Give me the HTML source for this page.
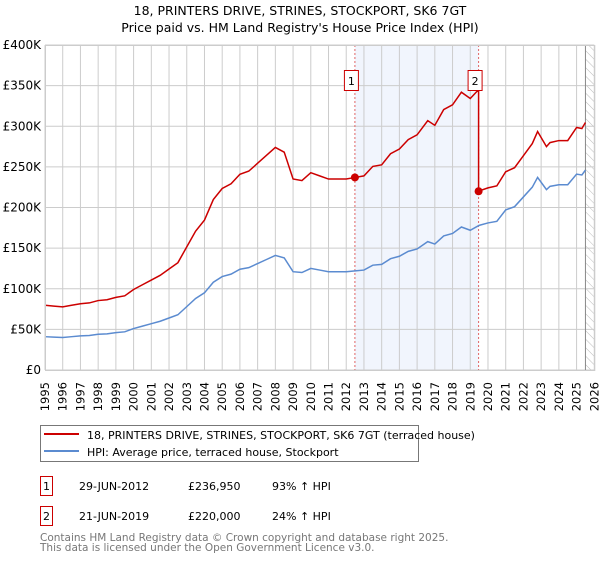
<!DOCTYPE html>
<html><head><meta charset="utf-8"><style>
body{margin:0;background:#fff;font-family:"DejaVu Sans","Liberation Sans",sans-serif;}
svg text{font-family:"DejaVu Sans","Liberation Sans",sans-serif;}
</style></head><body>
<svg id="chart" width="600" height="560" xmlns="http://www.w3.org/2000/svg">
<defs><pattern id="hatch" width="6" height="6" patternUnits="userSpaceOnUse" patternTransform="rotate(-45)"><line x1="0" y1="0" x2="0" y2="6" stroke="#bbb" stroke-width="1"/></pattern></defs>
<text x="300" y="15" text-anchor="middle" font-size="12.5" fill="#000">18, PRINTERS DRIVE, STRINES, STOCKPORT, SK6 7GT</text>
<text x="300" y="32" text-anchor="middle" font-size="12.5" fill="#000">Price paid vs. HM Land Registry's House Price Index (HPI)</text>
<g id="plot"></g>
<rect x="40.5" y="425.5" width="378" height="36" fill="#fff" stroke="#777"/>
<line x1="44" y1="434" x2="79" y2="434" stroke="#cc0000" stroke-width="2"/>
<text x="87" y="439" font-size="11" fill="#000">18, PRINTERS DRIVE, STRINES, STOCKPORT, SK6 7GT (terraced house)</text>
<line x1="44" y1="451" x2="79" y2="451" stroke="#5b8bd0" stroke-width="2"/>
<text x="87" y="456" font-size="11" fill="#000">HPI: Average price, terraced house, Stockport</text>
<g font-size="11" fill="#000">
<rect x="40.5" y="476.5" width="12" height="19" fill="#fff" stroke="#cc0000"/>
<text x="46.5" y="490" text-anchor="middle">1</text>
<text x="79" y="490">29-JUN-2012</text><text x="188" y="490">£236,950</text><text x="272" y="490">93% ↑ HPI</text>
</g>
<g font-size="11" fill="#000">
<rect x="40.5" y="506.5" width="12" height="19" fill="#fff" stroke="#cc0000"/>
<text x="46.5" y="520" text-anchor="middle">2</text>
<text x="79" y="520">21-JUN-2019</text><text x="188" y="520">£220,000</text><text x="272" y="520">24% ↑ HPI</text>
</g>
<text x="40" y="541" font-size="10.5" fill="#777">Contains HM Land Registry data © Crown copyright and database right 2025.</text>
<text x="40" y="551" font-size="10.5" fill="#777">This data is licensed under the Open Government Licence v3.0.</text>
</svg>
<script>
const yTicks=[0,50000,100000,150000,200000,250000,300000,350000,400000];
const yTickLabels=["£0","£50K","£100K","£150K","£200K","£250K","£300K","£350K","£400K"];
const xYears=[1995,1996,1997,1998,1999,2000,2001,2002,2003,2004,2005,2006,2007,2008,2009,2010,2011,2012,2013,2014,2015,2016,2017,2018,2019,2020,2021,2022,2023,2024,2025,2026];
const hpiDates=[1995,1995.5,1996,1996.5,1997,1997.5,1998,1998.5,1999,1999.5,2000,2000.5,2001,2001.5,2002,2002.5,2003,2003.5,2004,2004.5,2005,2005.5,2006,2006.5,2007,2007.5,2008,2008.5,2009,2009.5,2010,2010.5,2011,2011.5,2012,2012.5,2013,2013.5,2014,2014.5,2015,2015.5,2016,2016.6,2017,2017.5,2018,2018.5,2019,2019.5,2020,2020.5,2021,2021.5,2022,2022.5,2022.8,2023.3,2023.5,2024,2024.5,2025,2025.3,2025.5];
const hpiValues=[41000,40500,40000,41000,42000,42500,44000,44500,46000,47000,51000,54000,57000,60000,64000,68000,78000,88000,95000,108000,115000,118000,124000,126000,131000,136000,141000,138000,121000,120000,125000,123000,121000,121000,121000,122000,123000,129000,130000,137000,140000,146000,149000,158000,155000,165000,168000,176000,172000,178000,181000,183000,197000,201000,213000,225000,237000,222000,226000,228000,228000,241000,240000,246000];
const saleDates=[2012.49,2019.47];
const salePrices=[236950,220000];
const saleLabels=["1","2"];

const NS="http://www.w3.org/2000/svg";
const X0=45,X1=594.3,Y0=370,Y1=45;
const x=t=>X0+(t-1995)*(X1-X0)/31;
const y=v=>Y0-v*(Y0-Y1)/400000;
const g=document.getElementById('plot');
function mk(tag,attrs){const e=document.createElementNS(NS,tag);for(const k in attrs)e.setAttribute(k,attrs[k]);g.appendChild(e);return e;}
function hpiAt(t){for(let i=0;i<hpiDates.length-1;i++){if(t>=hpiDates[i]&&t<=hpiDates[i+1]){const f=(t-hpiDates[i])/(hpiDates[i+1]-hpiDates[i]);return hpiValues[i]+f*(hpiValues[i+1]-hpiValues[i]);}}return hpiValues[hpiValues.length-1];}

let el=mk('rect',{x:x(saleDates[0]),y:Y1,width:x(saleDates[1])-x(saleDates[0]),height:Y0-Y1,fill:'#eef3fd',opacity:0.8});


el=mk('rect',{x:x(2025.5),y:Y1,width:X1-x(2025.5),height:Y0-Y1,fill:'url(#hatch)'});


xYears.forEach(t=>{const l=mk('line',{x1:x(t),x2:x(t),y1:Y1,y2:Y0,stroke:'#ccc','stroke-width':1});


const tx=mk('text',{x:0,y:0,'font-size':11.5,'text-anchor':'end',transform:`translate(${x(t)+4},382) rotate(-90)`,fill:'#000'});tx.textContent=t;

});
yTicks.forEach((v,i)=>{const l=mk('line',{x1:X0,x2:X1,y1:y(v),y2:y(v),stroke:'#ccc','stroke-width':1});


const tx=mk('text',{x:41,y:y(v)+4,'font-size':12,'text-anchor':'end',fill:'#000'});tx.textContent=yTickLabels[i];

});
el=mk('line',{x1:x(2025.5),x2:x(2025.5),y1:Y1,y2:Y0,stroke:'#888','stroke-width':1});


saleDates.forEach((d,i)=>{const l=mk('line',{x1:x(d),x2:x(d),y1:Y1,y2:Y0,stroke:'#e06666','stroke-width':1,'stroke-dasharray':'2,2'});

});
// HPI line
el=mk('polyline',{points:hpiDates.map((t,i)=>x(t)+','+y(hpiValues[i])).join(' '),fill:'none',stroke:'#5b8bd0','stroke-width':1.5});


// Property line: HPI indexed from sale prices
const f1=salePrices[0]/hpiAt(saleDates[0]),f2=salePrices[1]/hpiAt(saleDates[1]);
const pts=[];
hpiDates.forEach((t,i)=>{if(t<saleDates[1])pts.push([t,hpiValues[i]*f1]);});
pts.push([saleDates[1],hpiAt(saleDates[1])*f1]);
pts.push([saleDates[1],salePrices[1]]);
hpiDates.forEach((t,i)=>{if(t>saleDates[1])pts.push([t,hpiValues[i]*f2]);});
el=mk('polyline',{points:pts.map(p=>x(p[0])+','+y(p[1])).join(' '),fill:'none',stroke:'#cc0000','stroke-width':1.5});


saleDates.forEach((d,i)=>{const c=mk('circle',{cx:x(d),cy:y(salePrices[i]),r:4,fill:'#cc0000'});


const r=mk('rect',{x:x(d)-10.5,y:70.5,width:14,height:20,fill:'#fff',stroke:'#cc0000'});


const t=mk('text',{x:x(d)-3.5,y:85,'font-size':11,'text-anchor':'middle',fill:'#000'});t.textContent=saleLabels[i];

});
el=mk('rect',{x:X0+0.5,y:Y1+0.5,width:X1-X0,height:Y0-Y1,fill:'none',stroke:'#ccc'});


</script>
</body></html>
